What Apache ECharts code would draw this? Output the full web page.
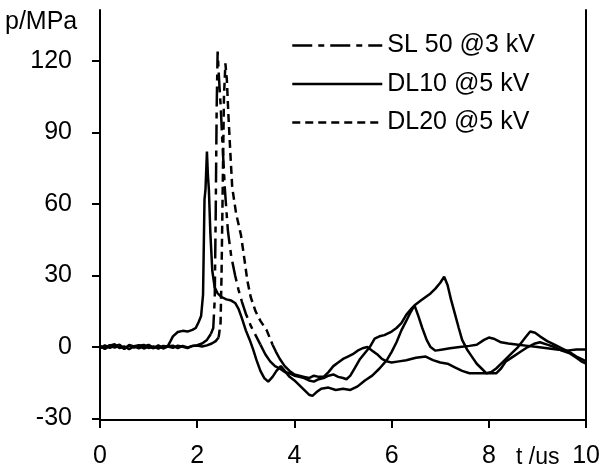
<!DOCTYPE html>
<html>
<head>
<meta charset="utf-8">
<script src="https://cdn.jsdelivr.net/npm/echarts@6/dist/echarts.min.js"></script>
<style>html,body{margin:0;padding:0;background:#fff}#c{width:603px;height:470px}</style>
</head>
<body>
<div id="c"></div>
<script>
// ---- data (t in us, p in MPa) ----
const seriesNames = ['SL 50 @3 kV', 'DL10 @5 kV', 'DL20 @5 kV'];
const xTicks = [0, 2, 4, 6, 8, 10];
const yTicks = [-30, 0, 30, 60, 90, 120];

const dl10 = [[0,0.5],[0.1,-0.8],[0.2,0.6],[0.3,1.2],[0.4,-0.4],[0.5,0.3],[0.6,-0.9],[0.7,0.4],[0.8,0.8],[0.9,-0.6],[1.0,0.2],[1.1,-0.5],[1.2,0.7],[1.3,-0.3],[1.4,0.6],[1.45,2.5],[1.5,4.5],[1.6,6.3],[1.7,6.8],[1.8,6.5],[1.9,7.2],[1.97,8],[2.03,10.5],[2.08,13],[2.12,22],[2.15,62],[2.17,66],[2.2,82],[2.22,72],[2.24,66],[2.27,48],[2.31,32],[2.36,25],[2.42,22.5],[2.5,21],[2.6,20],[2.7,19.5],[2.78,18.5],[2.85,16],[2.92,12],[3.0,7],[3.08,3],[3.15,-1],[3.22,-5.5],[3.3,-10],[3.38,-13],[3.46,-14.5],[3.55,-12.5],[3.63,-10],[3.72,-8],[3.8,-10],[3.9,-12.5],[4.0,-14],[4.1,-16],[4.2,-18],[4.3,-20],[4.37,-20.5],[4.45,-19],[4.55,-17.5],[4.7,-17],[4.85,-18],[5.0,-17.5],[5.15,-18],[5.3,-16.5],[5.45,-14],[5.6,-12],[5.75,-9],[5.9,-5.5],[6.0,-2],[6.1,2],[6.2,7],[6.3,11],[6.4,15],[6.47,17.5],[6.55,13],[6.63,8],[6.72,3],[6.8,0],[6.9,-1.5],[7.05,-1],[7.2,-0.5],[7.4,0],[7.6,0.5],[7.75,1],[7.9,3],[8.0,4],[8.1,3.5],[8.25,2],[8.4,1.5],[8.6,1],[8.8,0.5],[9.0,0],[9.2,-0.5],[9.4,-1],[9.6,-1.5],[9.8,-1],[10,-1]];

const sl50Base = [[0,-0.5],[0.1,0.7],[0.2,-0.3],[0.3,0.4],[0.4,1],[0.5,-0.6],[0.6,0.5],[0.7,-0.2],[0.8,0.6],[0.9,0.9],[1.0,-0.4],[1.1,0.3],[1.2,-0.7],[1.3,0.5],[1.4,0.2],[1.5,-0.3],[1.6,0.6],[1.7,0.1],[1.8,-0.4],[1.9,0.5],[2.0,0.8],[2.1,1.5],[2.2,3],[2.28,5.5]];
const sl50Peak = [[2.28,5.5],[2.33,8],[2.36,20],[2.38,55],[2.4,100],[2.42,124],[2.45,112],[2.48,102],[2.52,85],[2.57,66],[2.63,49],[2.7,38],[2.78,30],[2.85,24],[2.92,19],[3.0,14],[3.1,9],[3.2,5],[3.3,1]];
const sl50Tail = [[3.3,1],[3.4,-3],[3.5,-6],[3.6,-8],[3.7,-9],[3.8,-10.5],[3.9,-11],[4.0,-12],[4.1,-12.5],[4.2,-13],[4.3,-14],[4.4,-14.5],[4.5,-13.5],[4.6,-13],[4.7,-12],[4.8,-11.5],[4.9,-12.5],[5.0,-13],[5.07,-13.5],[5.15,-12],[5.25,-8.5],[5.35,-5],[5.45,-2.5],[5.55,0],[5.65,3.5],[5.75,4.5],[5.85,5],[6.0,6.5],[6.1,8],[6.2,10],[6.3,13.5],[6.4,16],[6.5,18],[6.6,19.5],[6.7,21],[6.8,22.5],[6.9,24.5],[7.0,27],[7.08,29.5],[7.15,26],[7.22,20],[7.3,14],[7.38,8],[7.45,3],[7.55,-1],[7.65,-4],[7.75,-7],[7.85,-9],[7.95,-11],[8.05,-10.5],[8.15,-9],[8.3,-6],[8.45,-3],[8.6,0],[8.75,4],[8.85,6.5],[8.95,6],[9.05,4.5],[9.2,2.5],[9.35,1],[9.5,-0.5],[9.65,-2],[9.8,-4],[9.9,-5],[10,-6]];

const dl20Base = [[0,0.4],[0.1,-0.6],[0.2,0.8],[0.3,-0.2],[0.4,0.5],[0.5,-0.8],[0.6,0.9],[0.7,0.3],[0.8,-0.5],[0.9,0.4],[1.0,0.9],[1.1,-0.3],[1.2,0.4],[1.3,-0.6],[1.4,0.3],[1.5,0.6],[1.6,-0.4],[1.7,0.5],[1.8,-0.2],[1.9,0.4],[2.0,0.6],[2.1,0.2],[2.2,0.7],[2.3,1.5],[2.38,2.5],[2.44,4]];
const dl20Peak = [[2.44,4],[2.48,10],[2.5,30],[2.53,75],[2.55,105],[2.58,119],[2.61,112],[2.64,98],[2.68,82],[2.72,67],[2.8,56],[2.9,47],[2.97,37],[3.03,28],[3.1,21],[3.2,15],[3.3,11],[3.43,7],[3.55,1]];
const dl20Tail = [[3.55,1],[3.62,-2],[3.7,-5],[3.8,-8],[3.9,-10],[4.0,-11.5],[4.1,-12],[4.2,-12.5],[4.3,-13],[4.4,-12],[4.5,-12.5],[4.6,-12.5],[4.7,-10.5],[4.8,-8],[4.9,-6.5],[5.0,-5],[5.1,-4],[5.2,-3],[5.3,-1.5],[5.4,-0.5],[5.5,0],[5.6,-1.5],[5.7,-3],[5.8,-5],[5.9,-6],[6.0,-6.5],[6.15,-6],[6.3,-5.5],[6.5,-4.5],[6.7,-4],[6.85,-5.5],[7.0,-6.5],[7.15,-7],[7.3,-8.5],[7.45,-10],[7.6,-11],[7.8,-11],[8.0,-11],[8.15,-11],[8.25,-9],[8.35,-6],[8.5,-4],[8.65,-2],[8.8,0],[8.95,1.5],[9.05,2],[9.2,1],[9.35,0],[9.5,-1.5],[9.65,-2.5],[9.8,-4.5],[9.9,-6],[10,-7]];

// ---- chart ----
const FONT = '"Liberation Sans", Arial, sans-serif';
const chart = echarts.init(document.getElementById('c'), null, {renderer: 'canvas'});
function line(name, data, type, width) {
  return {
    name: name, type: 'line', data: data, symbol: 'none', showSymbol: false,
    animation: false, silent: true,
    lineStyle: {color: '#000', width: width, type: type, cap: 'butt'},
    itemStyle: {color: '#000'}
  };
}
const option = {
  backgroundColor: '#fff',
  animation: false,
  textStyle: {fontFamily: FONT},
  grid: {left: 100, right: 16, top: 10, bottom: 50, containLabel: false},
  legend: {
    data: seriesNames,
    orient: 'vertical', left: 291, top: 33, padding: 0,
    itemWidth: 90, itemHeight: 14, itemGap: 13.5,
    itemStyle: {opacity: 0, borderWidth: 0},
    lineStyle: {width: 2.5},
    textStyle: {fontSize: 25, color: '#000', fontFamily: FONT},
    selectedMode: false
  },
  xAxis: {
    type: 'value', min: 0, max: 10, interval: 2,
    axisLine: {onZero: false, lineStyle: {color: '#000', width: 2}},
    axisTick: {show: true, inside: false, length: 8, lineStyle: {color: '#000', width: 2}},
    axisLabel: {fontSize: 25, color: '#000', margin: 24, fontFamily: FONT,
      customValues: xTicks, formatter: v => String(v)},
    splitLine: {show: false}
  },
  yAxis: [{
    type: 'value', min: -30.6, max: 141.4,
    axisLine: {show: true, onZero: false, lineStyle: {color: '#000', width: 2}},
    axisTick: {show: true, inside: false, length: 8, lineStyle: {color: '#000', width: 2}, customValues: yTicks},
    axisLabel: {fontSize: 25, color: '#000', margin: 28, fontFamily: FONT, customValues: yTicks},
    splitLine: {show: false}
  }, {
    type: 'value', min: -30.6, max: 141.4, position: 'right',
    axisLine: {show: true, onZero: false, lineStyle: {color: '#000', width: 2}},
    axisTick: {show: false}, axisLabel: {show: false}, splitLine: {show: false}
  }],
  series: [
    line('SL 50 @3 kV', sl50Peak, [20, 6, 6, 6], 2.5),
    line('DL10 @5 kV', dl10, 'solid', 2.5),
    line('DL20 @5 kV', dl20Peak, [8, 5], 2.5),
    line('sl50-base', sl50Base, 'solid', 2.5),
    line('sl50-tail', sl50Tail, 'solid', 2.5),
    line('dl20-base', dl20Base, 'solid', 2.5),
    line('dl20-tail', dl20Tail, 'solid', 2.5)
  ],
  graphic: [
    {type: 'text', left: 5, top: 10, style: {text: 'p/MPa', fontSize: 25, fill: '#000', fontFamily: FONT}},
    {type: 'text', left: 516, top: 446, style: {text: 't /us', fontSize: 23, fill: '#000', fontFamily: FONT}}
  ]
};
chart.setOption(option);
</script>
</body>
</html>
